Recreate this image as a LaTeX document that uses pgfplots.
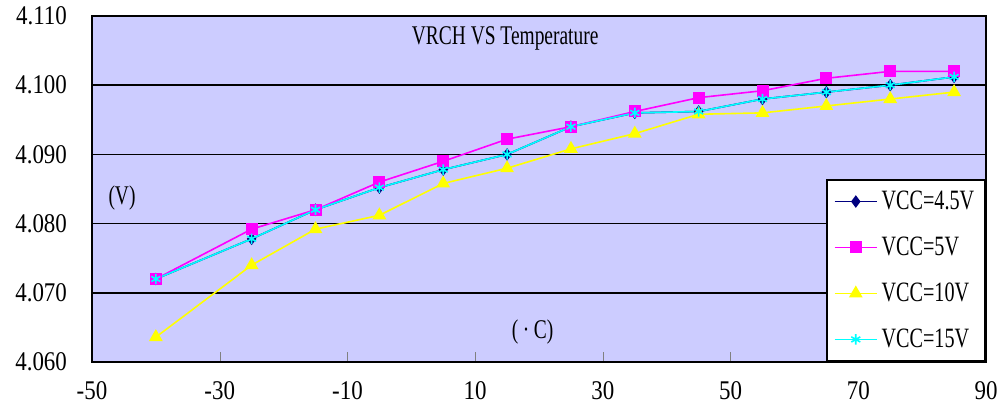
\documentclass[border=0pt]{standalone}
\usepackage{pgfplots}
\pgfplotsset{compat=1.18}
\usepackage{fontspec}
\setmainfont{Liberation Serif}[FakeStretch=0.85]
\newfontfamily\narrowfont{Liberation Serif}[FakeStretch=0.72]

\definecolor{plotbg}{HTML}{CCCCFF}
\definecolor{vnavy}{HTML}{000080}
\definecolor{vmag}{HTML}{FF00FF}
\definecolor{vyel}{HTML}{FFFF00}
\definecolor{vcyan}{HTML}{00FFFF}

\begin{document}
\begin{tikzpicture}
\begin{axis}[
    scale only axis,
    width=447pt, height=173pt,
    xmin=-50, xmax=90,
    ymin=4.060, ymax=4.110,
    xtick={-50,-30,...,90},
    ytick={4.060,4.070,...,4.110},
    /pgf/number format/assume math mode=true,
    yticklabel style={/pgf/number format/fixed, /pgf/number format/fixed zerofill,
        /pgf/number format/precision=3, xshift=-9pt},
    ticklabel style={font=\fontsize{13.5}{15}\selectfont},
    xticklabel style={yshift=-6pt},
    tick align=inside,
    xtick pos=bottom,
    ytick style={draw=none},
    major tick length=5pt,
    ymajorgrids,
    grid style={black, line width=0.8pt},
    axis background/.style={fill=plotbg},
    axis line style={line width=0.8pt},
    legend style={at={(1,0)}, anchor=south east, draw=black, line width=0.8pt,
        font=\narrowfont\fontsize{14}{15}\selectfont, row sep=8.2pt, inner sep=3.5pt},
    legend cell align=left,
    legend image code/.code={\draw[mark repeat=2,mark phase=2,#1]
        plot coordinates {(0cm,0cm) (0.37cm,0cm) (0.74cm,0cm)};},
    every axis plot/.append style={line width=0.8pt},
]
\addplot[vnavy, mark=diamond*, mark size=2.5pt] coordinates {
(-40,4.0720) (-25,4.0778) (-15,4.0820) (-5,4.0852) (5,4.0878) (15,4.0900)
(25,4.0940) (35,4.0960) (45,4.0962) (55,4.0980) (65,4.0990) (75,4.1000) (85,4.1012)};
\addplot[vmag, mark=square*, mark size=2.6pt] coordinates {
(-40,4.0720) (-25,4.0792) (-15,4.0820) (-5,4.0860) (5,4.0890) (15,4.0922)
(25,4.0940) (35,4.0962) (45,4.0982) (55,4.0992) (65,4.1010) (75,4.1020) (85,4.1020)};
\addplot[vyel, mark=triangle*, mark size=3.2pt] coordinates {
(-40,4.0636) (-25,4.0740) (-15,4.0792) (-5,4.0812) (5,4.0858) (15,4.0880)
(25,4.0908) (35,4.0930) (45,4.0958) (55,4.0960) (65,4.0970) (75,4.0980) (85,4.0990)};
\addplot[vcyan, mark=asterisk, mark size=2.6pt] coordinates {
(-40,4.0720) (-25,4.0778) (-15,4.0820) (-5,4.0852) (5,4.0878) (15,4.0900)
(25,4.0940) (35,4.0960) (45,4.0962) (55,4.0980) (65,4.0990) (75,4.1000) (85,4.1012)};
\legend{VCC=4.5V,VCC=5V,VCC=10V,VCC=15V}
\node[font=\narrowfont\fontsize{13.5}{15}\selectfont] at (axis cs:14.7,4.1067) {VRCH VS Temperature};
\node[font=\narrowfont\fontsize{13.5}{15}\selectfont] at (axis cs:-45.3,4.0837) {(V)};
\node[font=\narrowfont\fontsize{13.5}{15}\selectfont] at (axis cs:19.0,4.0643) {(\,·\,C)};
\end{axis}
\pgfresetboundingbox
\useasboundingbox (-46pt,-25pt) rectangle (453.5pt,181pt);
\end{tikzpicture}
\end{document}
